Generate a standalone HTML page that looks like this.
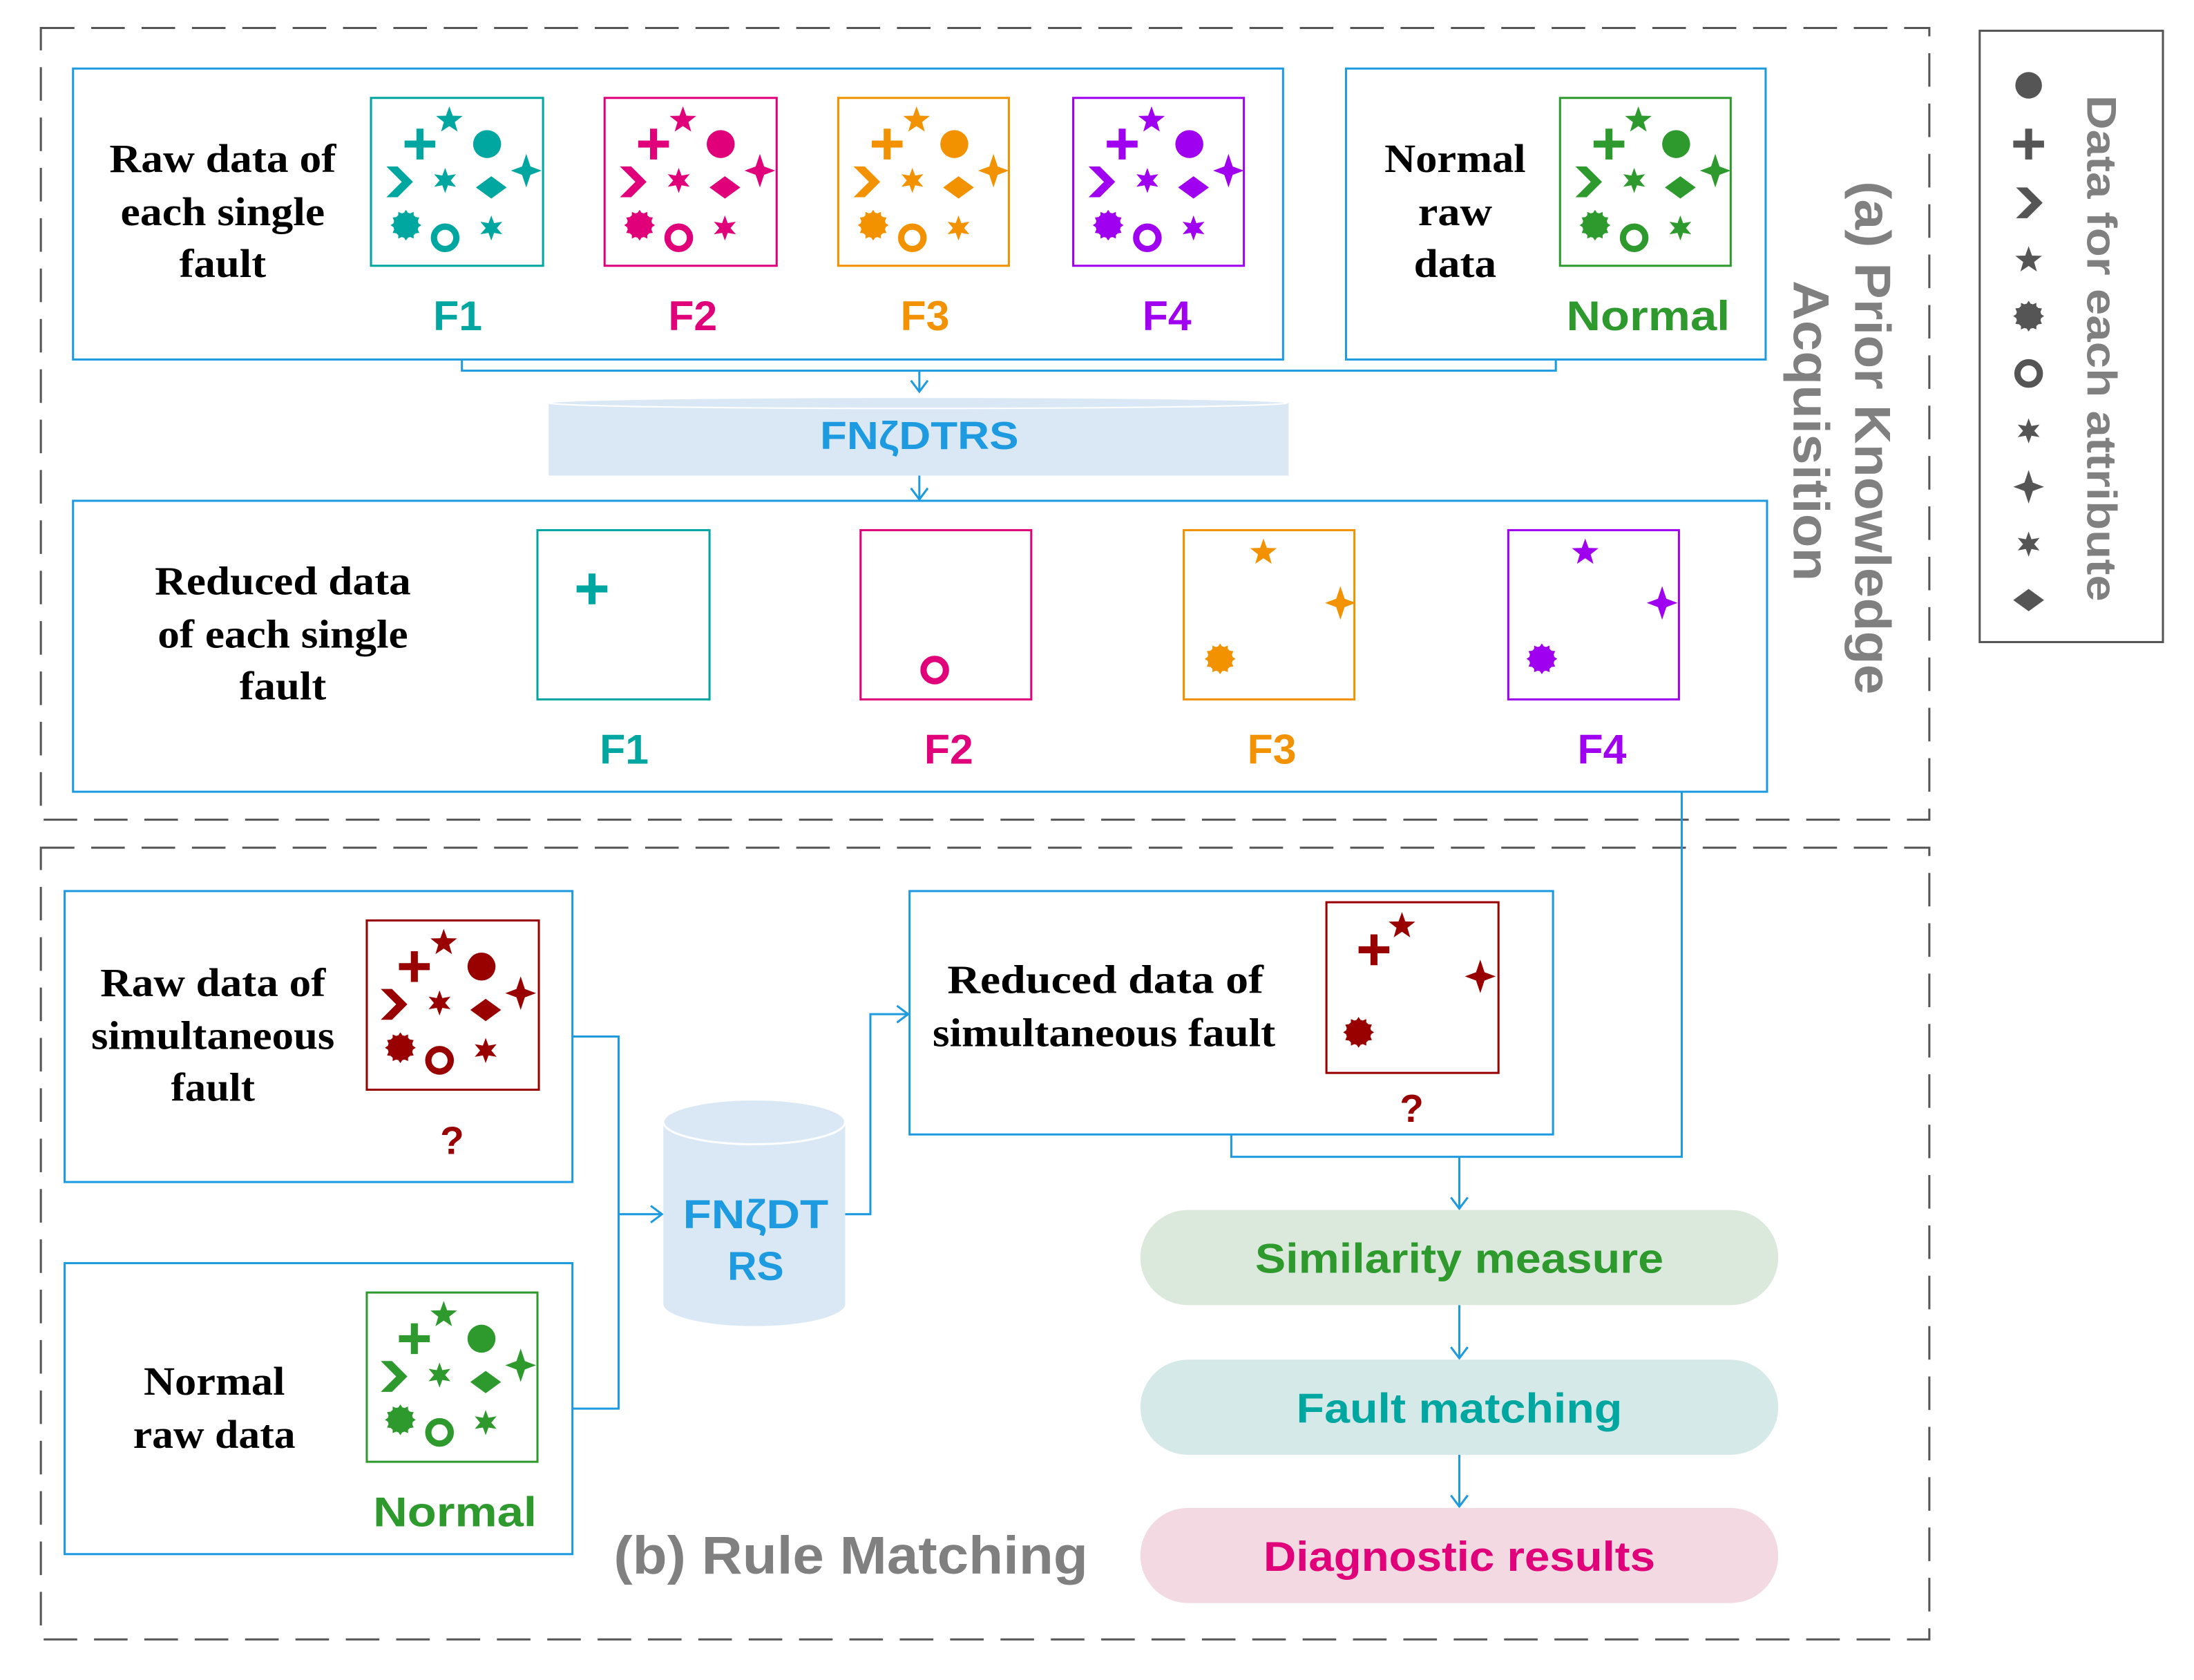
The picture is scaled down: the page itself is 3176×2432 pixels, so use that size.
<!DOCTYPE html>
<html><head><meta charset="utf-8"><style>html,body{margin:0;padding:0;background:#fff}svg{display:block}</style></head>
<body>
<svg xmlns="http://www.w3.org/2000/svg" xmlns:xlink="http://www.w3.org/1999/xlink" width="3176" height="2432" viewBox="0 0 1568 1201">
<defs>
<g id="plus"><path d="M-11,-2.5h8.5v-8.5h5v8.5h8.5v5h-8.5v8.5h-5v-8.5h-8.5z" fill="currentColor"/></g>
<g id="star5"><polygon points="0,-10 2.4,-3.3 9.5,-3.1 3.9,1.3 5.9,8.1 0,4.1 -5.9,8.1 -3.9,1.3 -9.5,-3.1 -2.4,-3.3" fill="currentColor"/></g>
<g id="circ"><circle r="10" fill="currentColor"/></g>
<g id="chev"><polygon points="-9,-11 -1,-11 10,0 -1,11 -9,11 2,0" fill="currentColor"/></g>
<g id="star6"><polygon points="0,-9 2,-3.5 7.8,-4.5 4,0 7.8,4.5 2,3.5 0,9 -2,3.5 -7.8,4.5 -4,0 -7.8,-4.5 -2,-3.5" fill="currentColor"/></g>
<g id="diam"><polygon points="-11,0 0,-8 11,0 0,8" fill="currentColor"/></g>
<g id="p4"><polygon points="0,-12 3,-3 11,0 3,3 0,12 -3,3 -11,0 -3,-3" fill="currentColor"/></g>
<g id="gear"><circle r="9" fill="currentColor"/><polygon points="0,-11 2,-8 5.5,-9.5 5.5,-6 9.5,-5.5 8,-2 11,0 8,2 9.5,5.5 5.5,6 5.5,9.5 2,8 0,11 -2,8 -5.5,9.5 -5.5,6 -9.5,5.5 -8,2 -11,0 -8,-2 -9.5,-5.5 -5.5,-6 -5.5,-9.5 -2,-8" fill="currentColor"/></g>
<g id="ring"><circle r="8" fill="none" stroke="currentColor" stroke-width="4.5"/></g>
<g id="all">
<use xlink:href="#plus" x="35" y="33"/><use xlink:href="#star5" x="56" y="16"/><use xlink:href="#circ" x="83" y="33"/>
<use xlink:href="#chev" x="20" y="60"/><use xlink:href="#star6" x="53" y="59"/><use xlink:href="#diam" x="86" y="64"/>
<use xlink:href="#p4" x="111" y="52"/><use xlink:href="#gear" x="25" y="91"/><use xlink:href="#ring" x="53" y="100"/>
<use xlink:href="#star6" x="86" y="93"/>
</g>
<g id="red3"><use xlink:href="#star5" x="57" y="16"/><use xlink:href="#p4" x="112" y="52"/><use xlink:href="#gear" x="26" y="92"/></g>
</defs>

<g fill="none" stroke="#555" stroke-width="1.5" stroke-dasharray="24 12">
<rect x="29" y="20" width="1350" height="566"/>
<rect x="29" y="606" width="1350" height="566"/>
</g>
<rect x="1415" y="22" width="131" height="437" fill="none" stroke="#555" stroke-width="1.5"/>

<g fill="none" stroke="#1e9be0" stroke-width="1.5">
<rect x="52" y="49" width="865" height="208"/>
<rect x="962" y="49" width="300" height="208"/>
<rect x="52" y="358" width="1211" height="208"/>
<rect x="46" y="637" width="363" height="208"/>
<rect x="46" y="903" width="363" height="208"/>
<rect x="650" y="637" width="460" height="174"/>
<polyline points="330,257 330,265 1112,265 1112,257"/>
<polyline points="657,265 657,280"/><polyline points="651,272 657,280 663,272"/>
<polyline points="657,340 657,357"/><polyline points="651,349 657,357 663,349"/>
<polyline points="409,741 442,741 442,1007 409,1007"/>
<polyline points="442,868 473,868"/><polyline points="465,862 473,868 465,874"/>
<polyline points="604,868 622,868 622,725 649,725"/><polyline points="641,719 649,725 641,731"/>
<polyline points="880,811 880,827 1202,827 1202,566"/>
<polyline points="1043,827 1043,864"/><polyline points="1037,856 1043,864 1049,856"/>
<polyline points="1043,933 1043,971"/><polyline points="1037,963 1043,971 1049,963"/>
<polyline points="1043,1040 1043,1077"/><polyline points="1037,1069 1043,1077 1049,1069"/>
</g>

<!-- cylinder horizontal -->
<rect x="392" y="288" width="529" height="52" fill="#dae8f6"/>
<ellipse cx="656" cy="288" rx="264" ry="4" fill="#dae8f6" stroke="#fff" stroke-width="1"/>
<text x="657" y="321" font-family="Liberation Sans, sans-serif" font-weight="bold" font-size="28" fill="#1e9be0" text-anchor="middle" textLength="142" lengthAdjust="spacingAndGlyphs">FNζDTRS</text>
<!-- cylinder vertical -->
<rect x="474" y="802" width="130" height="130" fill="#dae8f6"/>
<ellipse cx="539" cy="932" rx="65" ry="16" fill="#dae8f6"/>
<ellipse cx="539" cy="802" rx="65" ry="16" fill="#dae8f6" stroke="#fff" stroke-width="1.5"/>
<g font-family="Liberation Sans, sans-serif" font-weight="bold" font-size="29" fill="#1e9be0" text-anchor="middle">
<text x="540" y="878" textLength="104" lengthAdjust="spacingAndGlyphs">FNζDT</text>
<text x="540" y="915">RS</text>
</g>

<!-- small boxes -->
<g fill="none" stroke-width="1.5">
<rect x="265" y="70" width="123" height="120" stroke="#00a6a0"/>
<rect x="432" y="70" width="123" height="120" stroke="#e0007a"/>
<rect x="599" y="70" width="122" height="120" stroke="#f39200"/>
<rect x="767" y="70" width="122" height="120" stroke="#a000f0"/>
<rect x="1115" y="70" width="122" height="120" stroke="#2e9a2e"/>
<rect x="384" y="379" width="123" height="121" stroke="#00a6a0"/>
<rect x="615" y="379" width="122" height="121" stroke="#e0007a"/>
<rect x="846" y="379" width="122" height="121" stroke="#f39200"/>
<rect x="1078" y="379" width="122" height="121" stroke="#a000f0"/>
<rect x="262" y="658" width="123" height="121" stroke="#990000"/>
<rect x="262" y="924" width="122" height="121" stroke="#2e9a2e"/>
<rect x="948" y="645" width="123" height="122" stroke="#990000"/>
</g>
<use xlink:href="#all" x="265" y="70" color="#00a6a0"/>
<use xlink:href="#all" x="432" y="70" color="#e0007a"/>
<use xlink:href="#all" x="599" y="70" color="#f39200"/>
<use xlink:href="#all" x="767" y="70" color="#a000f0"/>
<use xlink:href="#all" x="1115" y="70" color="#2e9a2e"/>
<use xlink:href="#all" x="261" y="658" color="#990000"/>
<use xlink:href="#all" x="261" y="924" color="#2e9a2e"/>
<use xlink:href="#plus" x="423" y="421" color="#00a6a0"/>
<use xlink:href="#ring" x="668" y="479" color="#e0007a"/>
<use xlink:href="#red3" x="846" y="379" color="#f39200"/>
<use xlink:href="#red3" x="1076" y="379" color="#a000f0"/>
<use xlink:href="#plus" x="982" y="679" color="#990000"/>
<use xlink:href="#star5" x="1002" y="662" color="#990000"/>
<use xlink:href="#p4" x="1058" y="698" color="#990000"/>
<use xlink:href="#gear" x="971" y="738" color="#990000"/>

<!-- colored labels -->
<g font-family="Liberation Sans, sans-serif" font-weight="bold" font-size="30" text-anchor="middle">
<text x="327" y="236" fill="#00a6a0">F1</text>
<text x="495" y="236" fill="#e0007a">F2</text>
<text x="661" y="236" fill="#f39200">F3</text>
<text x="834" y="236" fill="#a000f0">F4</text>
<text x="1178" y="236" fill="#2e9a2e" textLength="117" lengthAdjust="spacingAndGlyphs">Normal</text>
<text x="446" y="546" fill="#00a6a0">F1</text>
<text x="678" y="546" fill="#e0007a">F2</text>
<text x="909" y="546" fill="#f39200">F3</text>
<text x="1145" y="546" fill="#a000f0">F4</text>
<text x="325" y="1091" fill="#2e9a2e" textLength="117" lengthAdjust="spacingAndGlyphs">Normal</text>
<text x="323" y="825" fill="#990000" font-size="28">?</text>
<text x="1009" y="802" fill="#990000" font-size="28">?</text>
<text x="1043" y="910" fill="#2e9a2e" textLength="292" lengthAdjust="spacingAndGlyphs">Similarity measure</text>
<text x="1043" y="1017" fill="#00a6a0" textLength="233" lengthAdjust="spacingAndGlyphs">Fault matching</text>
<text x="1043" y="1123" fill="#e0007a" textLength="280" lengthAdjust="spacingAndGlyphs">Diagnostic results</text>
<text x="608" y="1125" fill="#808080" font-size="38" textLength="339" lengthAdjust="spacingAndGlyphs">(b) Rule Matching</text>
</g>
<!-- pills (drawn before text would be better; re-order) -->
<g>
<rect x="815" y="865" width="456" height="68" rx="34" fill="#dbe8dc"/>
<rect x="815" y="972" width="456" height="68" rx="34" fill="#d6e9e9"/>
<rect x="815" y="1078" width="456" height="68" rx="34" fill="#f2d9e2"/>
</g>
<g font-family="Liberation Sans, sans-serif" font-weight="bold" font-size="30" text-anchor="middle">
<text x="1043" y="910" fill="#2e9a2e" textLength="292" lengthAdjust="spacingAndGlyphs">Similarity measure</text>
<text x="1043" y="1017" fill="#00a6a0" textLength="233" lengthAdjust="spacingAndGlyphs">Fault matching</text>
<text x="1043" y="1123" fill="#e0007a" textLength="280" lengthAdjust="spacingAndGlyphs">Diagnostic results</text>
</g>

<!-- serif texts -->
<g font-family="Liberation Serif, serif" font-weight="bold" font-size="29" fill="#000" text-anchor="middle">
<text x="159" y="123" textLength="162" lengthAdjust="spacingAndGlyphs">Raw data of</text>
<text x="159" y="161" textLength="146" lengthAdjust="spacingAndGlyphs">each single</text>
<text x="159" y="198" textLength="62" lengthAdjust="spacingAndGlyphs">fault</text>
<text x="1040" y="123" textLength="101" lengthAdjust="spacingAndGlyphs">Normal</text>
<text x="1040" y="161" textLength="53" lengthAdjust="spacingAndGlyphs">raw</text>
<text x="1040" y="198" textLength="59" lengthAdjust="spacingAndGlyphs">data</text>
<text x="202" y="425" textLength="183" lengthAdjust="spacingAndGlyphs">Reduced data</text>
<text x="202" y="463" textLength="179" lengthAdjust="spacingAndGlyphs">of each single</text>
<text x="202" y="500" textLength="62" lengthAdjust="spacingAndGlyphs">fault</text>
<text x="152" y="712" textLength="161" lengthAdjust="spacingAndGlyphs">Raw data of</text>
<text x="152" y="750" textLength="174" lengthAdjust="spacingAndGlyphs">simultaneous</text>
<text x="152" y="787" textLength="60" lengthAdjust="spacingAndGlyphs">fault</text>
<text x="153" y="997" textLength="101" lengthAdjust="spacingAndGlyphs">Normal</text>
<text x="153" y="1035" textLength="116" lengthAdjust="spacingAndGlyphs">raw data</text>
<text x="790" y="710" textLength="226" lengthAdjust="spacingAndGlyphs">Reduced  data of</text>
<text x="789" y="748" textLength="245" lengthAdjust="spacingAndGlyphs">simultaneous fault</text>
</g>

<!-- vertical labels -->
<g font-family="Liberation Sans, sans-serif" font-weight="bold" fill="#808080" text-anchor="middle">
<text transform="translate(1326,313) rotate(90)" font-size="36" textLength="367" lengthAdjust="spacingAndGlyphs">(a) Prior Knowledge</text>
<text transform="translate(1282,308) rotate(90)" font-size="36" textLength="215" lengthAdjust="spacingAndGlyphs">Acquisition</text>
<text transform="translate(1492,249) rotate(90)" font-size="30" textLength="362" lengthAdjust="spacingAndGlyphs">Data for each attribute</text>
</g>
<g color="#555">
<use xlink:href="#circ" x="1450" y="61" transform="translate(1450,61) scale(0.95) translate(-1450,-61)"/>
<use xlink:href="#plus" x="1450" y="103"/>
<use xlink:href="#chev" x="1450" y="145" transform="translate(1450,145) rotate(0) translate(-1450,-145)"/>
<use xlink:href="#star5" x="1450" y="186"/>
<use xlink:href="#gear" x="1450" y="226"/>
<use xlink:href="#ring" x="1450" y="267"/>
<use xlink:href="#star6" x="1450" y="308"/>
<use xlink:href="#p4" x="1450" y="348"/>
<use xlink:href="#star6" x="1450" y="389"/>
<use xlink:href="#diam" x="1450" y="429"/>
</g>
</svg>
</body></html>
